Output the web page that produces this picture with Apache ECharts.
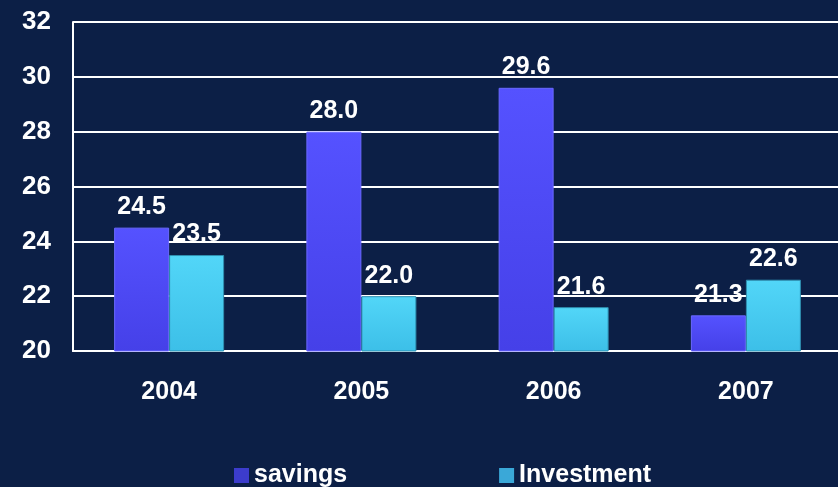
<!DOCTYPE html>
<html>
<head>
<meta charset="utf-8">
<script src="https://cdn.jsdelivr.net/npm/echarts@6/dist/echarts.min.js"></script>
<style>
  html, body { margin: 0; padding: 0; background: #0c1f46; }
  #chart { width: 838px; height: 487px; }
</style>
</head>
<body>
<div id="chart"></div>
<script>
const years = ["2004", "2005", "2006", "2007"];
const savings = [24.5, 28.0, 29.6, 21.3];
const investment = [23.5, 22.0, 21.6, 22.6];

const myChart = echarts.init(document.getElementById("chart"));

function barColor(top, bottom) {
  return new echarts.graphic.LinearGradient(0, 0, 0, 1, [
    { offset: 0, color: top },
    { offset: 1, color: bottom },
  ]);
}

const labelStyle = {
  show: true,
  position: "top",
  distance: 8,
  color: "#ffffff",
  fontFamily: "Liberation Sans",
  fontWeight: "bold",
  fontSize: 25,
  formatter: (p) => p.value.toFixed(1),
};

const option = {
  backgroundColor: "#0c1f46",
  animation: false,
  grid: {
    left: 73,
    width: 769,
    top: 22,
    bottom: 136,
    outerBoundsMode: "none",
  },
  legend: {
    left: 229,
    top: 458,
    itemGap: 152,
    itemWidth: 15,
    itemHeight: 15,
    icon: "rect",
    textStyle: {
      color: "#ffffff",
      fontFamily: "Liberation Sans",
      fontWeight: "bold",
      fontSize: 25,
    },
    data: [
      { name: "savings", itemStyle: { color: "#3c3ccc", borderWidth: 0 } },
      { name: "Investment", itemStyle: { color: "#3aa8d8", borderWidth: 0 } },
    ],
  },
  xAxis: {
    type: "category",
    data: years,
    axisLine: { lineStyle: { color: "#ffffff", width: 2 } },
    axisTick: { show: false },
    axisLabel: {
      color: "#ffffff",
      fontFamily: "Liberation Sans",
      fontWeight: "bold",
      fontSize: 25,
      margin: 29,
    },
  },
  yAxis: {
    type: "value",
    min: 20,
    max: 32,
    interval: 2,
    axisLine: { show: true, lineStyle: { color: "#ffffff", width: 2 } },
    axisTick: { show: false },
    splitLine: { lineStyle: { color: "#ffffff", width: 2 } },
    axisLabel: {
      color: "#ffffff",
      fontFamily: "Liberation Sans",
      fontWeight: "bold",
      fontSize: 26,
      margin: 22,
    },
  },
  series: [
    {
      name: "savings",
      type: "bar",
      data: savings,
      barWidth: 55,
      barGap: "0%",
      itemStyle: {
        color: barColor("#5552ff", "#4540e8"),
        borderColor: "#6a68ff",
        borderWidth: 1,
      },
      label: labelStyle,
    },
    {
      name: "Investment",
      type: "bar",
      data: investment,
      barWidth: 55,
      itemStyle: {
        color: barColor("#52d6f8", "#3cbfe8"),
        borderColor: "#2f8fb0",
        borderWidth: 1,
      },
      label: labelStyle,
    },
  ],
};

option && myChart.setOption(option);
</script>
</body>
</html>
